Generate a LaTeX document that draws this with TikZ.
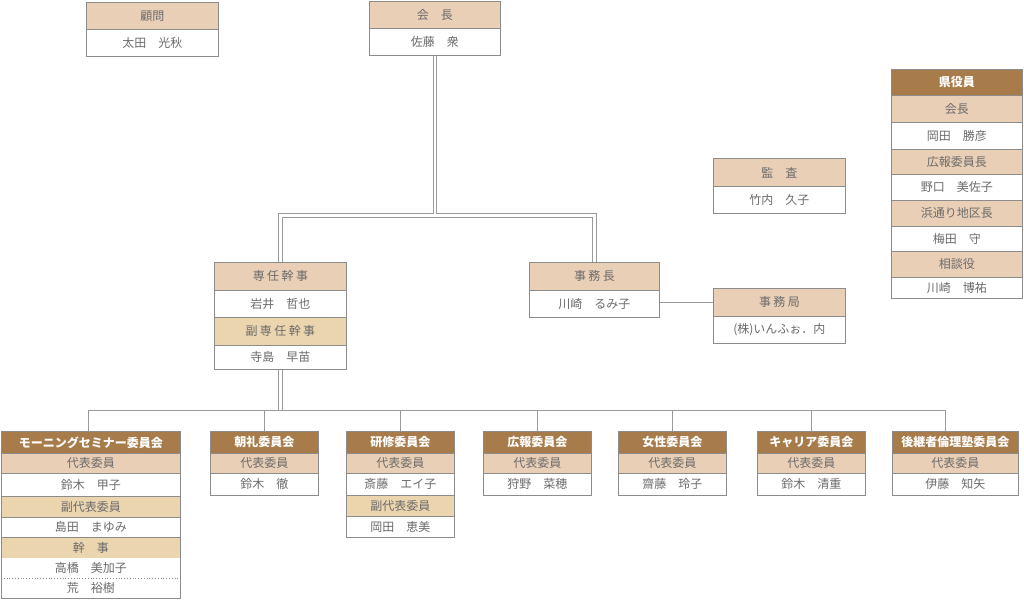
\documentclass[tikz,border=0pt]{standalone}
\usepackage{fontspec}
\setmainfont{Noto Sans CJK JP}
\definecolor{dk}{HTML}{A87B4B}
\definecolor{pkc}{HTML}{E9CFB6}
\definecolor{ylc}{HTML}{EBD5AF}
\definecolor{bd}{HTML}{8C8C8C}
\definecolor{tx}{HTML}{6B6B6B}
\definecolor{ln}{HTML}{9A9A9A}
\newcommand\ls{\hspace{2.4pt}}
\tikzset{
  cell/.style={draw=bd, line width=0.8pt, inner sep=0pt, anchor=north west, text=tx,
    font=\fontsize{12pt}{13pt}\selectfont},
  hdk/.style={cell, fill=dk, text=white, font=\fontsize{12pt}{13pt}\selectfont\bfseries},
  hpk/.style={cell, fill=pkc},
  hyl/.style={cell, fill=ylc},
  nm/.style={cell, fill=white},
  cw/.style={minimum width=#1pt},
  ch/.style={minimum height=#1pt},
  conn/.style={draw=ln, line width=1pt},
  dbl/.style={draw=ln, line width=1pt, double=white, double distance=2.4pt},
}
\begin{document}
\begin{tikzpicture}[x=1pt,y=-1pt]
\useasboundingbox (0,0) rectangle (1024,600);
\fill[white] (0,0) rectangle (1024,600);

% 顧問
\node[hpk,cw=132,ch=27] (komon) at (86,2) {顧問};
\node[nm,cw=132,ch=27] (komonn) at (86,29) {太田　光秋};

% 会長
\node[hpk,cw=131,ch=27.5] (kaicho) at (369,0.5) {会　長};
\node[nm,cw=131,ch=27] (kaichon) at (369,28) {佐藤　衆};

% 監査
\node[hpk,cw=132,ch=28] (kansa) at (713,158) {監　査};
\node[nm,cw=132,ch=27] (kansan) at (713,186) {竹内　久子};

% 事務局
\node[hpk,cw=132,ch=28] (jmk) at (713,288) {事\ls{}務\ls{}局};
\node[nm,cw=132,ch=27] (jmkn) at (713,316) {(株)いんふぉ．内};

% 専任幹事
\node[hpk,cw=132,ch=28] (senin) at (214,262) {専\ls{}任\ls{}幹\ls{}事};
\node[nm,cw=132,ch=27] (seninn) at (214,290) {岩井　哲也};
\node[hyl,cw=132,ch=28] (fuku) at (214,317) {副\ls{}専\ls{}任\ls{}幹\ls{}事};
\node[nm,cw=132,ch=24] (fukun) at (214,345) {寺島　早苗};

% 事務長
\node[hpk,cw=130,ch=28] (jmc) at (529,262) {事\ls{}務\ls{}長};
\node[nm,cw=130,ch=27] (jmcn) at (529,290) {川崎　るみ子};

% 県役員
\node[hdk,cw=131,ch=26] (ken) at (891,69) {県役員};
\node[hpk,cw=131,ch=27] (ken1) at (891,95) {会長};
\node[nm,cw=131,ch=27] (ken1n) at (891,122) {岡田　勝彦};
\node[hpk,cw=131,ch=25] (ken2) at (891,149) {広報委員長};
\node[nm,cw=131,ch=26] (ken2n) at (891,174) {野口　美佐子};
\node[hpk,cw=131,ch=26] (ken3) at (891,200) {浜通り地区長};
\node[nm,cw=131,ch=25] (ken3n) at (891,226) {梅田　守};
\node[hpk,cw=131,ch=26] (ken4) at (891,251) {相談役};
\node[nm,cw=131,ch=21] (ken4n) at (891,277) {川崎　博祐};

% 委員会
\node[hdk,cw=179,ch=22] (c1) at (1,431) {モーニングセミナー委員会};
\node[hpk,cw=179,ch=20] (c1a) at (1,453) {代表委員};
\node[nm,cw=179,ch=23] (c1b) at (1,473) {鈴木　甲子};
\node[hyl,cw=179,ch=21] (c1c) at (1,496) {副代表委員};
\node[nm,cw=179,ch=20] (c1d) at (1,517) {島田　まゆみ};
\node[hyl,cw=179,ch=21] (c1e) at (1,537) {幹　事};
\node[nm,draw=none,cw=179,ch=19.5] (c1f) at (1,558) {高橋　美加子};
\node[nm,draw=none,cw=179,ch=20.5] (c1g) at (1,577.5) {荒　裕樹};
\draw[bd, line width=0.8pt] (c1f.north west) -- (c1g.south west) -- (c1g.south east) -- (c1f.north east);
\draw[bd, line width=0.8pt, dotted] (c1f.south west) -- (c1f.south east);

\node[hdk,cw=108,ch=22] (c2) at (210,431) {朝礼委員会};
\node[hpk,cw=108,ch=20] (c2a) at (210,453) {代表委員};
\node[nm,cw=108,ch=22] (c2b) at (210,473) {鈴木　徹};

\node[hdk,cw=108,ch=22] (c3) at (346,431) {研修委員会};
\node[hpk,cw=108,ch=20] (c3a) at (346,453) {代表委員};
\node[nm,cw=108,ch=22] (c3b) at (346,473) {斎藤　エイ子};
\node[hyl,cw=108,ch=21] (c3c) at (346,495) {副代表委員};
\node[nm,cw=108,ch=21] (c3d) at (346,516) {岡田　恵美};

\node[hdk,cw=108,ch=22] (c4) at (483,431) {広報委員会};
\node[hpk,cw=108,ch=20] (c4a) at (483,453) {代表委員};
\node[nm,cw=108,ch=22] (c4b) at (483,473) {狩野　菜穂};

\node[hdk,cw=108,ch=22] (c5) at (618,431) {女性委員会};
\node[hpk,cw=108,ch=20] (c5a) at (618,453) {代表委員};
\node[nm,cw=108,ch=22] (c5b) at (618,473) {齋藤　玲子};

\node[hdk,cw=108,ch=22] (c6) at (757,431) {キャリア委員会};
\node[hpk,cw=108,ch=20] (c6a) at (757,453) {代表委員};
\node[nm,cw=108,ch=22] (c6b) at (757,473) {鈴木　清重};

\node[hdk,cw=126,ch=22] (c7) at (892,431) {後継者倫理塾委員会};
\node[hpk,cw=126,ch=20] (c7a) at (892,453) {代表委員};
\node[nm,cw=126,ch=22] (c7b) at (892,473) {伊藤　知矢};

% connectors
\coordinate (j1) at (434.5,215.5);
\coordinate (j1top) at (434.5,214.3);
\draw[dbl] (senin.north) |- (jmc.north |- j1) -- (jmc.north);
\draw[dbl] (kaichon.south) -- (kaichon.south |- j1top);

\coordinate (busL) at (88,410);
\coordinate (busR) at (945,410);
\draw[dbl] (fukun.south) -- (fukun.south |- busL);
\draw[conn] (busL) -- (busR);
\draw[conn] (busL) -- (busL |- c1.north);
\draw[conn] (c2.north |- busL) -- (c2.north);
\draw[conn] (c3.north |- busL) -- (c3.north);
\draw[conn] (c4.north |- busL) -- (c4.north);
\draw[conn] (c5.north |- busL) -- (c5.north);
\draw[conn] (c6.north |- busL) -- (c6.north);
\draw[conn] (busR) -- (busR |- c7.north);

\draw[conn] (jmcn.east |- jmk.west) -- (jmk.west);
\end{tikzpicture}
\end{document}
